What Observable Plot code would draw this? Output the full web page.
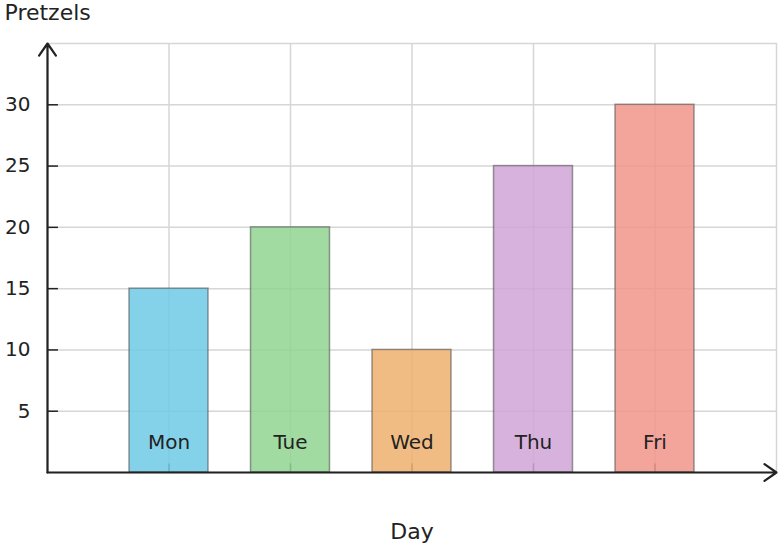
<!DOCTYPE html>
<html><head><meta charset="utf-8">
<script src="https://cdn.jsdelivr.net/npm/d3@7"></script>
<script src="https://cdn.jsdelivr.net/npm/@observablehq/plot@0.6"></script>
<style>body{margin:0;background:#fff;font-family:"DejaVu Sans",sans-serif}</style>
</head><body><div id="chart"></div>
<script>
const days = ["Mon","Tue","Wed","Thu","Fri"];
const pretzels = [15,20,10,25,30];
const colors = ["#6fc9e6","#90d592","#efb06d","#d0a5d7","#f2958a"];
const yTicks = [5,10,15,20,25,30];
const xDomain = [0,6];
const yDomain = [0,35];
const barHalf = 0.325;

const data = days.map((d,i)=>({day:d, x:i+1, v:pretzels[i], c:colors[i]}));
const xs = data.map(d=>d.x);

const chart = Plot.plot({
  width:780, height:548,
  marginLeft:47, marginRight:4, marginTop:43, marginBottom:76,
  style:{fontFamily:"DejaVu Sans", fontSize:"20px", color:"#222", background:"#fff"},
  x:{domain:xDomain, axis:null},
  y:{domain:yDomain, axis:null},
  marks:[
    Plot.frame({stroke:"#d6d6d6", strokeWidth:1.5}),
    Plot.ruleY(yTicks, {stroke:"#d6d6d6", strokeWidth:1.5}),
    Plot.ruleX(xs, {stroke:"#d6d6d6", strokeWidth:1.5}),
    Plot.ruleX(xs, {x:d=>d, y1:0, y2:0.7, stroke:"#333", strokeWidth:1.5}),
    Plot.rectY(data, {x1:d=>d.x-barHalf, x2:d=>d.x+barHalf, y1:0, y2:"v", fill:"c", fillOpacity:0.85, stroke:"#555", strokeOpacity:0.6, strokeWidth:1.5}),
    Plot.text(data, {x:"x", y:0, text:"day", dy:-30, fill:"#222", fontSize:20}),
    Plot.ruleY(yTicks, {y:d=>d, x1:xDomain[0], x2:xDomain[0]+0.09, stroke:"#222", strokeWidth:1.5}),
    Plot.text(yTicks, {x:xDomain[0], y:d=>d, text:d=>String(d), textAnchor:"end", dx:-17, fill:"#222", fontSize:20}),
    Plot.arrow([0], {x1:xDomain[0], y1:yDomain[0], x2:xDomain[0], y2:yDomain[1], stroke:"#222", strokeWidth:2.2, headLength:10, headAngle:70}),
    Plot.arrow([0], {x1:xDomain[0], y1:yDomain[0], x2:xDomain[1], y2:yDomain[0], stroke:"#222", strokeWidth:2.2, headLength:10, headAngle:70}),
    Plot.text(["Pretzels"], {frameAnchor:"top-left", lineAnchor:"middle", text:d=>d, textAnchor:"start", dx:-43, dy:-31, fontSize:22, fill:"#222"}),
    Plot.text(["Day"], {frameAnchor:"bottom", lineAnchor:"middle", text:d=>d, dy:59, fontSize:22, fill:"#222"})
  ]
});
document.getElementById("chart").appendChild(chart);
</script></body></html>
